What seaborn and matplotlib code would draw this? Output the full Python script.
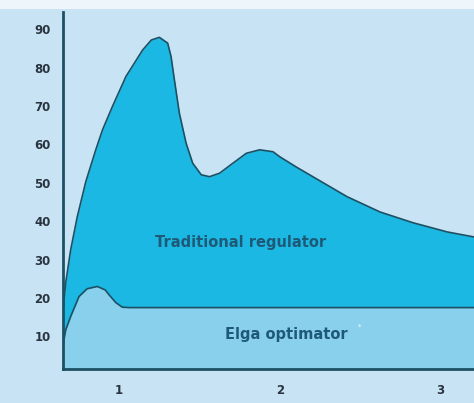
import matplotlib
matplotlib.use("Agg")
import matplotlib.pyplot as plt
import seaborn as sns
import pandas as pd
from matplotlib.patches import Rectangle

# upper curve (traditional regulator)
trad_x = [0.65, 0.667, 0.698, 0.739, 0.792, 0.854, 0.896, 0.958, 1.042, 1.146, 1.2,
          1.25, 1.302, 1.323, 1.344, 1.375, 1.417, 1.458, 1.511, 1.5625, 1.625,
          1.708, 1.792, 1.875, 1.958, 2.0, 2.1, 2.206, 2.419, 2.625, 2.83, 3.044, 3.21]
trad_y = [16.9, 24.0, 32.6, 41.2, 50.3, 58.6, 63.8, 69.9, 77.7, 84.6, 87.2,
          87.9, 86.4, 82.9, 76.8, 68.1, 60.3, 55.1, 52.1, 51.6, 52.5,
          55.1, 57.7, 58.6, 58.1, 56.8, 54.2, 51.6, 46.4, 42.4, 39.6, 37.2, 35.9]

# lower curve (Elga optimator)
elga_x = [0.65, 0.652, 0.667, 0.698, 0.75, 0.8, 0.864, 0.9125, 0.9375, 0.979, 1.019,
          1.0625, 3.21]
elga_y = [3, 8.3, 11.7, 15.2, 20.4, 22.4, 23.0, 22.1, 20.8, 18.8, 17.6, 17.5, 17.5]

x_ticks = [1, 2, 3]
y_ticks = [10, 20, 30, 40, 50, 60, 70, 80, 90]

bg = "#c8e4f4"
upper_fill = "#1ab8e2"
lower_fill = "#88d0ec"
edge = "#1d5064"
text_col = "#1e5a78"
tick_col = "#2a3440"

sns.set_style("white")
plt.rcParams["font.family"] = ["DejaVu Sans"]

fig = plt.figure(figsize=(4.74, 4.03), dpi=100, facecolor=bg)
ax = fig.add_axes([63 / 474, 1 - 369 / 403, 1 - 63 / 474, (369 - 12) / 403])
ax.set_facecolor(bg)

trad = pd.DataFrame({"x": trad_x, "y": trad_y})
elga = pd.DataFrame({"x": elga_x, "y": elga_y})

ax.fill_between(trad["x"], 0, trad["y"], color=upper_fill, lw=0, zorder=1)
sns.lineplot(data=trad, x="x", y="y", ax=ax, color=edge, lw=1.2, sort=False, zorder=3)
ax.fill_between(elga["x"], 0, elga["y"], color=lower_fill, lw=0, zorder=2)
sns.lineplot(data=elga, x="x", y="y", ax=ax, color=edge, lw=1.2, sort=False, zorder=3)

ax.set_xlim(0.65, 3.21)
ax.set_ylim(1.5, 94.5)
ax.set_xticks(x_ticks)
ax.set_yticks(y_ticks)
ax.set_xlabel("")
ax.set_ylabel("")
ax.tick_params(axis="both", length=0, labelsize=8.5, labelcolor=tick_col)
ax.tick_params(axis="x", pad=11)
ax.tick_params(axis="y", pad=9)
for lab in ax.get_xticklabels() + ax.get_yticklabels():
    lab.set_fontweight("bold")

for side in ["top", "right"]:
    ax.spines[side].set_visible(False)
for side in ["left", "bottom"]:
    ax.spines[side].set_color(edge)
    ax.spines[side].set_linewidth(2)
    ax.spines[side].set_zorder(5)

ax.text(1.756, 34.4, "Traditional regulator", fontsize=10.5, fontweight="bold",
        color=text_col, ha="center", va="center", zorder=4)
ax.text(2.04, 10.4, "Elga optimator", fontsize=10.5, fontweight="bold",
        color=text_col, ha="center", va="center", zorder=4)
ax.text(2.5, 12.6, "*", fontsize=5, color="white", ha="center", va="center", zorder=4)

# pale strip along the top edge of the picture
fig.add_artist(Rectangle((0, 1 - 9 / 403), 1, 9 / 403, transform=fig.transFigure,
                         color="#eef6fb", lw=0, zorder=0))

fig.savefig("out.png", dpi=100, facecolor=bg)
